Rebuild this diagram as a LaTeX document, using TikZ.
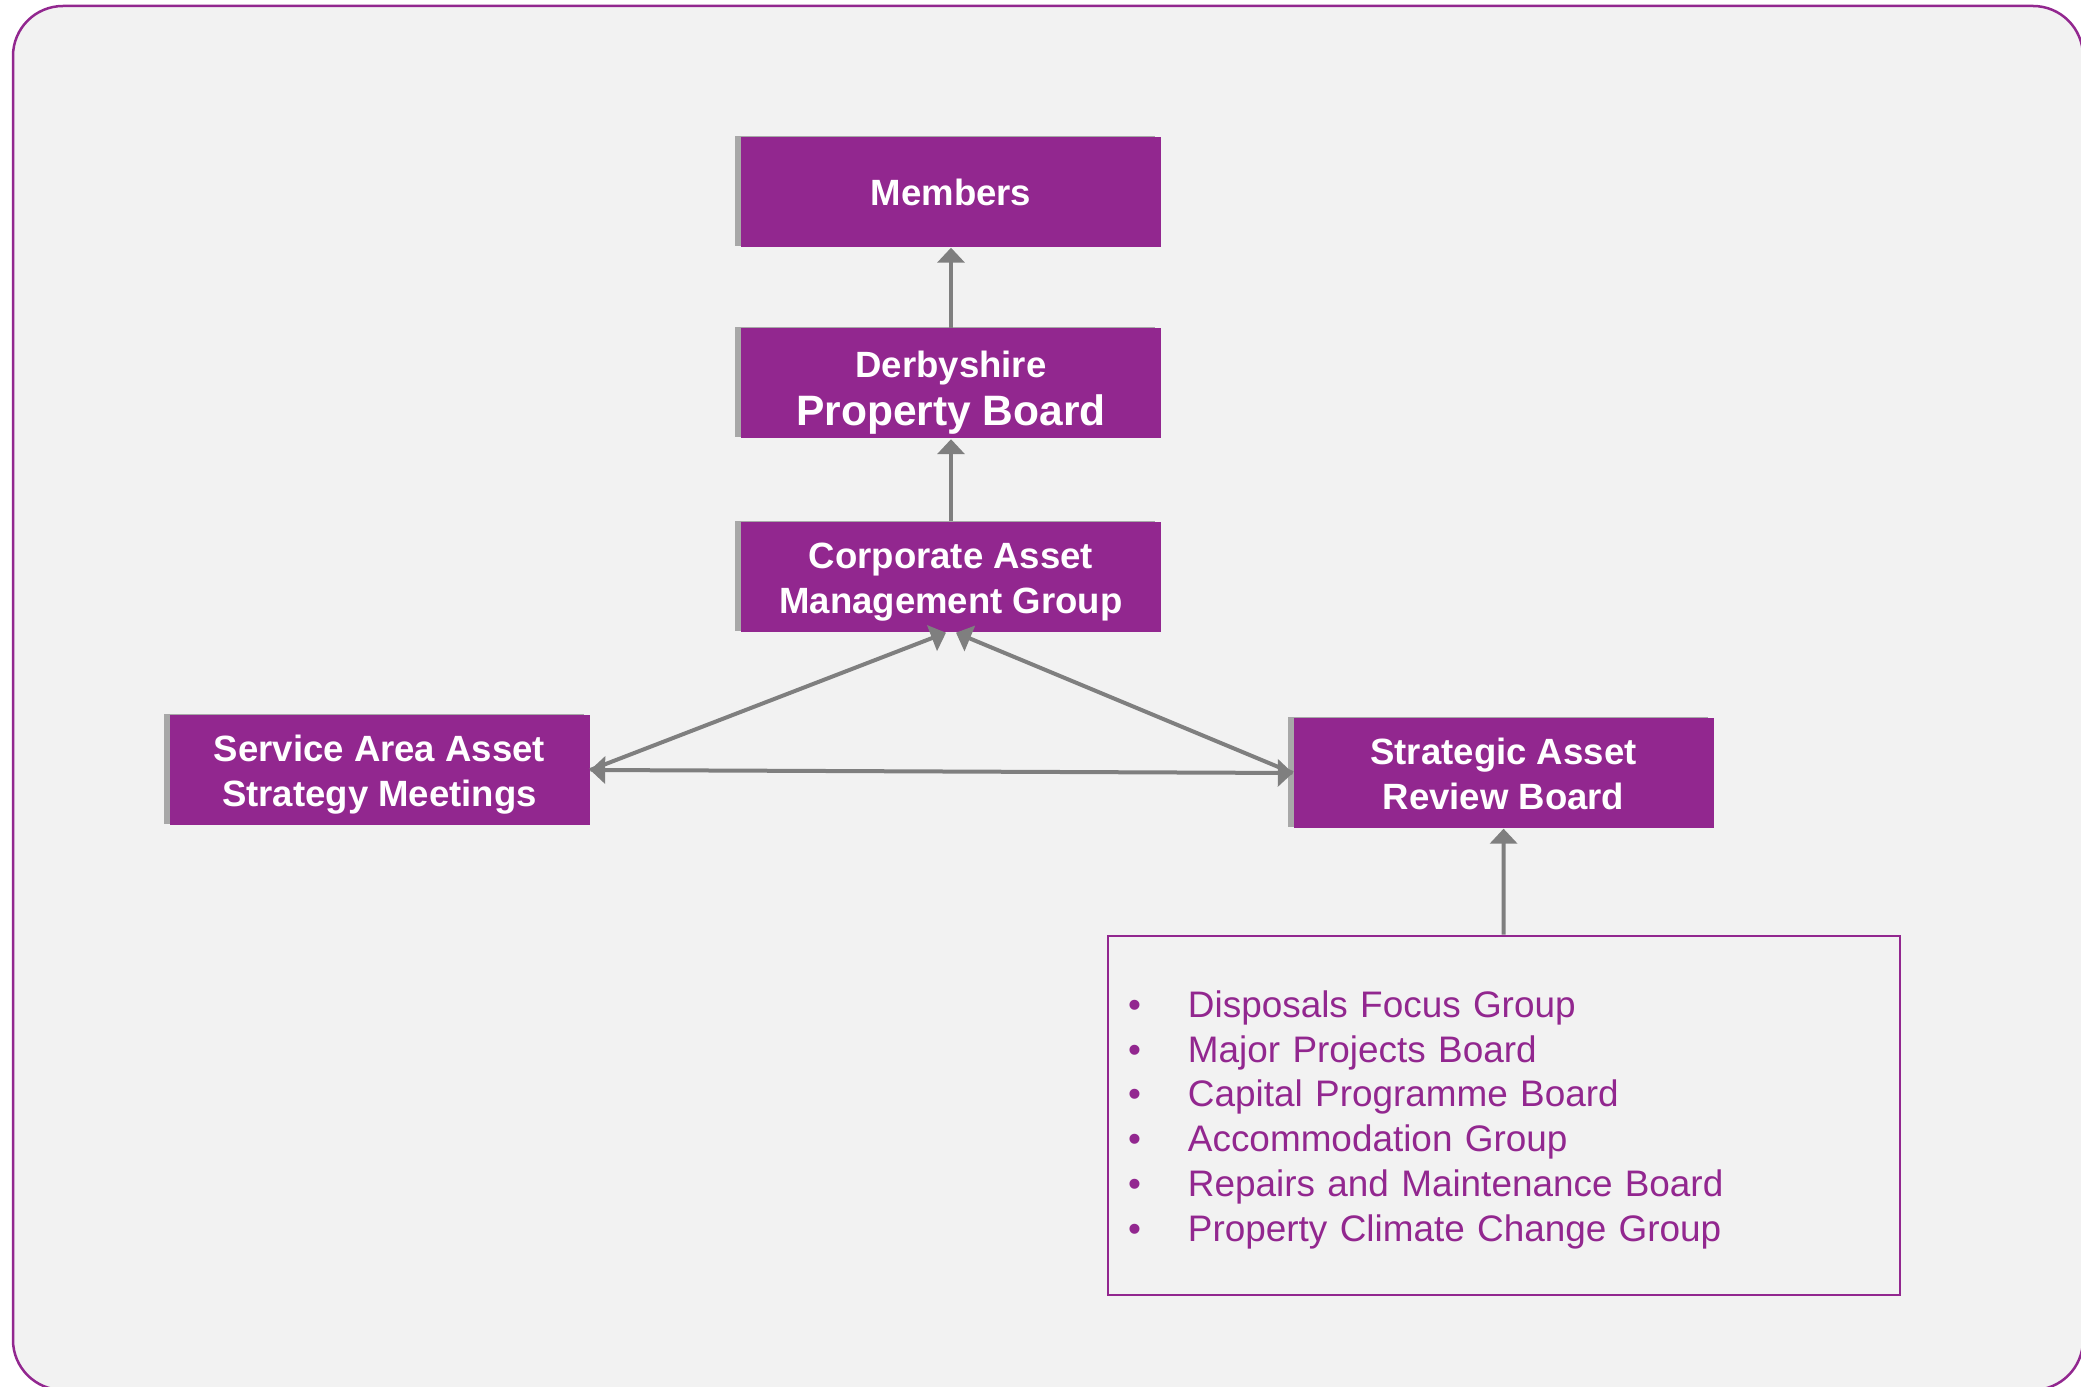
\documentclass[tikz,border=0pt]{standalone}
\usepackage{fontspec}
\setmainfont{Liberation Sans}
\usetikzlibrary{arrows.meta,shadows}
\definecolor{boardpurple}{HTML}{92278F}
\definecolor{linkgrey}{HTML}{7F7F7F}
\definecolor{panelgrey}{HTML}{F2F2F2}
\newcommand{\boardlines}[3][c]{\raisebox{-#2}[\height][\depth]{\begin{tabular}{@{}#1@{}}#3\end{tabular}}}

\begin{document}
\begin{tikzpicture}[x=1mm,y=-1mm,
	>={Triangle[width=2.7mm,length=1.5mm]},
	board/.style={fill=boardpurple, text=white, font=\bfseries\fontsize{10.4}{12.8}\selectfont, align=center, minimum width=42mm, minimum height=11mm, inner sep=0pt, drop shadow={shadow xshift=-0.6mm, shadow yshift=0.1mm, fill=black, opacity=.3}},
	link/.style={draw=linkgrey, line width=0.4mm, ->}]
	\useasboundingbox (0,0) rectangle (208.1,138.7);
	\draw [draw=boardpurple, fill=panelgrey, line width=0.25mm, rounded corners=5mm] (1.3,0.6) rectangle (208.3,139);
	\node [board] (mem) at (95.1,19.2) {Members};
	\node [board] (dpb) at (95.1,38.35) {\boardlines{0.9mm}{Derbyshire\\[0.3mm]{\fontsize{12.1}{14}\selectfont Property Board}}};
	\node [board] (camg) at (95.1,57.7) {\boardlines{0.5mm}{Corporate Asset\\Management Group}};
	\node [board] (sa) at (37.95,77) {\boardlines{0.5mm}{Service Area Asset\\Strategy Meetings}};
	\node [board] (sarb) at (150.35,77.3) {\boardlines{0.5mm}{Strategic Asset\\Review Board}};
	\node [draw=boardpurple, line width=0.25mm, text=boardpurple, font=\fontsize{10.5}{12.8}\selectfont, text width=75.2mm, inner xsep=2mm, minimum height=35.9mm, align=left] (subs) at (150.4,111.55) {\boardlines[l]{0.5mm}{
		\makebox[6mm][l]{\textbullet}Disposals Focus Group\\
		\makebox[6mm][l]{\textbullet}Major Projects Board\\
		\makebox[6mm][l]{\textbullet}Capital Programme Board\\
		\makebox[6mm][l]{\textbullet}Accommodation Group\\
		\makebox[6mm][l]{\textbullet}Repairs and Maintenance Board\\
		\makebox[6mm][l]{\textbullet}Property Climate Change Group}};
	\draw [link] (dpb) -- (mem);
	\draw [link] (camg) -- (dpb);
	\draw [link] (sa.east) -- ([xshift=-0.5mm]camg.south);
	\draw [link] (sarb.west) -- ([xshift=0.5mm]camg.south);
	\draw [link, <->] (sa.east) -- (sarb.west);
	\draw [link] (subs) -- (sarb);
\end{tikzpicture}
\end{document}
